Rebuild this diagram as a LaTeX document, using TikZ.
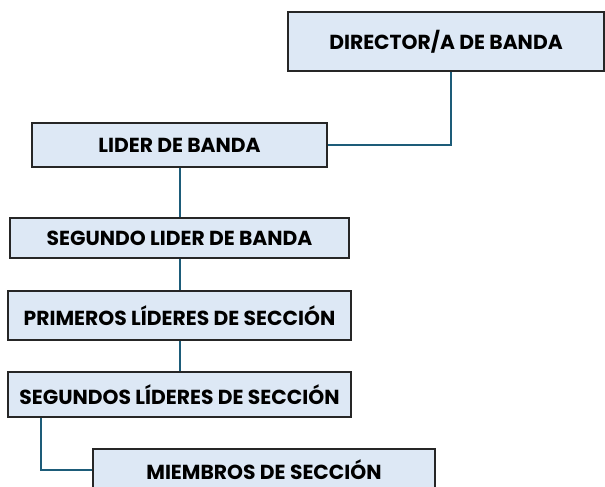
\documentclass[tikz,border=0pt]{standalone}
\usepackage{fontspec}
\setmainfont{Poppins}
\definecolor{boxfill}{HTML}{DDE8F5}
\definecolor{boxline}{HTML}{262626}
\definecolor{conn}{HTML}{1D5C79}
\begin{document}
\begin{tikzpicture}[x=1pt,y=-1pt,
  box/.style={draw=boxline,fill=boxfill,line width=2.2pt,inner sep=0pt,
    font=\fontsize{20.3}{22}\selectfont\bfseries},
  link/.style={draw=conn,line width=2pt}]
\useasboundingbox (0,0) rectangle (605,487);
\clip (0,0) rectangle (605,487);
\node[box,minimum width=316pt,minimum height=59pt] (dir) at (446,41.5) {DIRECTOR/A DE BANDA};
\node[box,minimum width=295pt,minimum height=44pt] (lid) at (179.5,145) {LIDER DE BANDA};
\node[box,minimum width=339pt,minimum height=40pt] (seg) at (179.5,238) {SEGUNDO LIDER DE BANDA};
\node[box,minimum width=343pt,minimum height=49pt] (pri) at (179.5,315.5) {PRIMEROS LÍDERES DE SECCIÓN};
\node[box,minimum width=343pt,minimum height=45pt] (sgs) at (179.5,394.5) {SEGUNDOS LÍDERES DE SECCIÓN};
\node[box,minimum width=342pt,minimum height=42pt] (mie) at (264,470) {MIEMBROS DE SECCIÓN};
\draw[link] ([xshift=5pt]dir.south) |- (lid.east);
\draw[link] (lid.south) -- (seg.north);
\draw[link] (seg.south) -- (pri.north);
\draw[link] (pri.south) -- (sgs.north);
\draw[link] ([xshift=34pt]sgs.south west) |- (mie.west);
\end{tikzpicture}
\end{document}
